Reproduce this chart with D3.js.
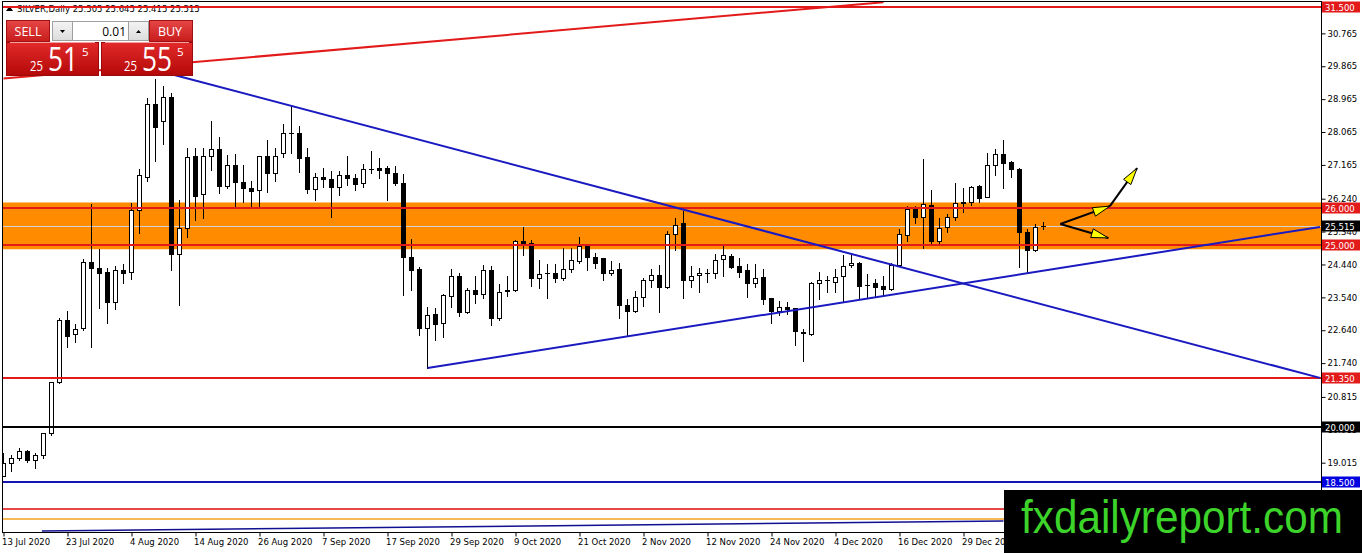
<!DOCTYPE html>
<html>
<head>
<meta charset="utf-8">
<script src="https://cdn.jsdelivr.net/npm/d3@7"></script>
<style>
body { margin: 0; background: #fff; overflow: hidden; }
svg { display: block; }
</style>
</head>
<body>
<svg width="1362" height="553"></svg>
<script>
// daily bars, 13 Jul 2020 onwards (index = trading day)
const opens = [
	18.67, 19.02, 19.16, 19.35, 19.10, 19.24, 19.84, 21.24, 22.93, 22.55,
	22.72, 24.52, 24.36, 24.25, 23.43, 24.30, 24.25, 25.94, 26.85, 28.85,
	28.38, 29.04, 24.74, 25.45, 27.42, 26.38, 27.42, 27.61, 26.60, 27.18,
	26.71, 26.55, 26.49, 27.42, 26.96, 27.50, 28.05, 28.05, 27.39, 26.52,
	26.85, 26.79, 26.57, 26.90, 26.82, 26.68, 27.07, 27.09, 27.09, 26.96,
	26.68, 24.66, 24.33, 22.72, 23.10, 22.85, 23.59, 24.14, 23.15, 23.75,
	23.65, 24.30, 22.99, 23.75, 23.75, 25.10, 25.04, 24.08, 24.22, 24.22,
	24.08, 24.33, 24.55, 24.99, 24.66, 24.63, 24.22, 24.33, 23.34, 23.18,
	23.56, 24.03, 24.17, 23.84, 25.29, 25.59, 24.03, 24.17, 24.21, 24.22,
	24.60, 24.69, 24.41, 24.30, 23.95, 24.11, 23.54, 23.18, 23.29, 23.26,
	22.61, 22.55, 23.95, 24.03, 23.97, 24.14, 24.44, 24.49, 23.90, 23.95,
	23.86, 23.78, 24.44, 25.26, 25.97, 25.75, 26.08, 25.10, 25.48, 25.75,
	26.16, 26.16, 26.60, 26.30, 27.18, 27.48, 27.26, 27.07, 25.34, 24.85,
	25.505
]
const highs = [
	19.32, 19.27, 19.46, 19.40, 19.32, 19.86, 21.26, 23.02, 23.21, 22.85,
	24.63, 26.14, 24.90, 24.38, 24.44, 24.49, 26.16, 27.09, 29.04, 29.56,
	29.37, 29.17, 26.25, 27.67, 27.67, 27.67, 28.41, 27.97, 27.48, 27.50,
	27.20, 26.77, 27.45, 27.89, 27.67, 28.33, 28.82, 28.27, 27.67, 26.98,
	27.12, 27.04, 27.04, 27.45, 26.96, 27.23, 27.59, 27.39, 27.18, 27.18,
	26.96, 25.18, 24.41, 23.32, 23.29, 23.67, 24.36, 24.25, 23.84, 24.17,
	24.47, 24.44, 23.95, 24.17, 25.15, 25.51, 25.15, 24.60, 24.49, 24.49,
	24.93, 24.93, 25.23, 25.04, 24.79, 24.66, 24.58, 24.52, 23.54, 23.75,
	24.11, 24.36, 24.47, 25.40, 25.75, 25.94, 24.44, 24.38, 24.36, 24.77,
	25.04, 24.77, 24.66, 24.49, 24.49, 24.36, 23.56, 23.48, 23.45, 23.29,
	22.72, 24.00, 24.27, 24.17, 24.36, 24.74, 24.79, 24.55, 24.22, 24.08,
	24.17, 24.52, 25.45, 26.08, 26.08, 27.37, 26.52, 25.75, 25.86, 26.71,
	26.57, 26.63, 26.66, 27.53, 27.64, 27.89, 27.31, 27.12, 25.45, 25.59,
	25.645
]
const lows = [
	18.67, 18.80, 19.10, 19.05, 18.88, 19.16, 19.79, 21.21, 22.19, 22.33,
	22.66, 22.19, 23.26, 22.85, 23.24, 23.95, 24.06, 25.32, 26.74, 27.29,
	27.75, 24.30, 23.34, 25.21, 25.67, 25.73, 27.04, 26.41, 26.55, 26.03,
	26.16, 26.03, 26.03, 26.44, 26.74, 27.39, 27.50, 26.98, 26.41, 26.22,
	26.57, 25.75, 26.35, 26.63, 26.49, 26.57, 26.96, 26.82, 26.22, 26.63,
	23.62, 23.75, 22.52, 21.62, 22.39, 22.47, 23.29, 23.04, 23.13, 23.40,
	23.54, 22.80, 22.93, 23.59, 23.73, 24.71, 23.86, 23.81, 23.54, 23.97,
	24.03, 24.25, 24.49, 24.30, 24.36, 24.03, 24.17, 22.99, 22.52, 23.15,
	23.32, 23.84, 23.15, 23.81, 24.85, 23.54, 23.84, 23.70, 23.97, 24.08,
	24.14, 24.36, 24.11, 23.56, 23.84, 23.37, 22.85, 23.07, 23.10, 22.25,
	21.81, 22.52, 23.51, 23.70, 23.70, 23.43, 24.38, 23.51, 23.56, 23.56,
	23.62, 23.75, 24.41, 25.10, 25.59, 24.90, 25.01, 25.01, 25.34, 25.67,
	25.89, 26.08, 26.16, 26.30, 26.90, 26.55, 26.85, 24.38, 24.25, 24.82,
	25.415
]
const closes = [
	19.02, 19.16, 19.35, 19.10, 19.24, 19.84, 21.24, 22.93, 22.50, 22.69,
	24.52, 24.36, 24.22, 23.43, 24.30, 24.22, 25.94, 26.90, 28.85, 28.22,
	29.04, 24.74, 25.45, 27.39, 26.33, 27.42, 27.61, 26.60, 27.18, 26.71,
	26.55, 26.46, 27.42, 26.96, 27.42, 28.05, 28.04, 27.37, 26.52, 26.85,
	26.79, 26.57, 26.90, 26.82, 26.66, 27.07, 27.06, 27.04, 26.96, 26.68,
	24.66, 24.30, 22.72, 23.07, 22.82, 23.62, 24.14, 23.15, 23.75, 23.65,
	24.30, 22.99, 23.70, 23.74, 25.10, 25.04, 24.08, 24.19, 24.21, 24.08,
	24.33, 24.58, 24.96, 24.66, 24.49, 24.22, 24.30, 23.34, 23.18, 23.56,
	24.03, 24.17, 23.84, 25.29, 25.53, 24.03, 24.14, 24.22, 24.22, 24.58,
	24.71, 24.38, 24.25, 23.95, 24.08, 23.51, 23.18, 23.29, 23.24, 22.63,
	22.58, 23.95, 24.03, 24.02, 24.11, 24.41, 24.49, 23.86, 23.89, 23.84,
	23.78, 24.44, 25.29, 25.97, 25.75, 26.11, 25.10, 25.45, 25.75, 26.14,
	26.14, 26.57, 26.27, 27.18, 27.48, 27.23, 27.07, 25.34, 24.85, 25.48,
	25.515
]

const dateIdx = [0, 8, 16, 24, 32, 40, 48, 56, 64, 72, 80, 88, 96, 104, 112, 120]
const dateLabels = ['13 Jul 2020', '23 Jul 2020', '4 Aug 2020', '14 Aug 2020', '26 Aug 2020',
	'7 Sep 2020', '17 Sep 2020', '29 Sep 2020', '9 Oct 2020', '21 Oct 2020', '2 Nov 2020',
	'12 Nov 2020', '24 Nov 2020', '4 Dec 2020', '16 Dec 2020', '29 Dec 2020']

const priceTicks = [30.765, 29.865, 28.965, 28.065, 27.165, 26.240, 25.340, 24.440,
	23.540, 22.640, 21.740, 20.815, 19.915, 19.015]

// horizontal levels with a price tag on the axis
const levels = [31.5, 26, 25, 21.35, 20, 18.5]
const levelKinds = ['red', 'red', 'red', 'red', 'black', 'blue']
// plain horizontal lines near the bottom
const lowLevels = [17.75, 17.5]
const lowKinds = ['redThin', 'orangeThin']

const zone = [24.87, 26.15]
const bid = 25.515
const ask = 25.555

// trendlines: [bar index, price]
const trendRed = [[0, 29.54], [110, 31.63]]
const trendDown = [[21, 29.66], [164.56, 21.35]]
const trendUp = [[53, 21.62], [164.56, 25.48]]
const trendBottom = [[4.8, 17.16], [125, 17.43]]

// drawn arrows: [from bar, from price, to bar, to price]
const arrows = [
	[132.1, 25.56, 138.3, 26.05],
	[138.3, 26.05, 141.7, 27.09],
	[132.1, 25.56, 138.1, 25.18]
]

const kindStyle = {
	red: {c: '#e21a1a', w: 2},
	black: {c: '#000', w: 2},
	blue: {c: '#1414b4', w: 2},
	redThin: {c: '#e00a0a', w: 1.5},
	orangeThin: {c: '#f5a020', w: 1.5}
}

const svg = d3.select('svg')
const plot = {left: 3, right: 1321, top: 2, bottom: 532}
const axisFont = 'DejaVu Sans'

const x = d3.scaleLinear().domain([0, 130]).range([3.5, 1043.5])
const y = d3.scaleLinear().domain([18.5, 31.5]).range([482, 7])
const py = v => Math.round(y(v)) + 0.5

svg.append('rect').attr('width', 1362).attr('height', 553).attr('fill', '#fff')

let defs = svg.append('defs')
defs.append('clipPath').attr('id', 'plotClip').append('rect')
	.attr('x', plot.left).attr('y', plot.top)
	.attr('width', plot.right - plot.left).attr('height', plot.bottom - plot.top)

function grad(id, c1, c2) {
	let lg = defs.append('linearGradient').attr('id', id)
	.attr('x1', 0).attr('y1', 0).attr('x2', 0).attr('y2', 1)
	lg.append('stop').attr('offset', '0%').attr('stop-color', c1)
	lg.append('stop').attr('offset', '100%').attr('stop-color', c2)
}
grad('btnRed', '#e64646', '#c81c1c')
grad('boxRed', '#e22a2a', '#b40808')
grad('btnGray', '#f4f4f4', '#dcdcdc')

let g = svg.append('g').attr('clip-path', 'url(#plotClip)')

// support / resistance zone
g.append('rect')
.attr('x', plot.left).attr('width', plot.right - plot.left)
.attr('y', y(zone[1])).attr('height', y(zone[0]) - y(zone[1]))
.attr('fill', '#ff8c00')

// bid line
g.append('line')
.attr('x1', plot.left).attr('x2', plot.right)
.attr('y1', py(bid)).attr('y2', py(bid))
.attr('stroke', '#d4d4d4').attr('stroke-width', 1)

// header
let last = opens.length - 1
g.append('path')
.attr('d', 'M6,11 L9.5,6 L13,11 Z').attr('fill', '#000')
g.append('text')
.attr('x', 17).attr('y', 12)
.attr('font-family', axisFont).attr('font-size', 8.5).attr('fill', '#000')
.text(`SILVER,Daily  ${[opens[last], highs[last], lows[last], closes[last]].map(d3.format('.3f')).join(' ')}`)

// candles
let bars = opens.map((o, i) => ({i, o, h: highs[i], l: lows[i], c: closes[i]}))
let cg = g.append('g').attr('shape-rendering', 'crispEdges')

cg.selectAll('line.wick')
.data(bars).enter()
.append('line').attr('class', 'wick')
.attr('x1', d => x(d.i)).attr('x2', d => x(d.i))
.attr('y1', d => py(d.h)).attr('y2', d => py(d.l))
.attr('stroke', '#000')

cg.selectAll('rect.body')
.data(bars.filter(d => py(d.o) !== py(d.c))).enter()
.append('rect').attr('class', 'body')
.attr('x', d => x(d.i) - 2).attr('width', 4)
.attr('y', d => Math.min(py(d.o), py(d.c)))
.attr('height', d => Math.abs(py(d.o) - py(d.c)))
.attr('fill', d => d.c >= d.o ? '#fff' : '#000')
.attr('stroke', '#000')

cg.selectAll('line.doji')
.data(bars.filter(d => py(d.o) === py(d.c))).enter()
.append('line').attr('class', 'doji')
.attr('x1', d => x(d.i) - 2.5).attr('x2', d => x(d.i) + 2.5)
.attr('y1', d => py(d.c)).attr('y2', d => py(d.c))
.attr('stroke', '#000')

// horizontal levels
let hl = levels.map((v, i) => ({v, k: levelKinds[i]}))
.concat(lowLevels.map((v, i) => ({v, k: lowKinds[i]})))
g.selectAll('line.level')
.data(hl).enter()
.append('line').attr('class', 'level')
.attr('x1', plot.left).attr('x2', plot.right)
.attr('y1', d => Math.round(y(d.v)))
.attr('y2', d => Math.round(y(d.v)))
.attr('stroke', d => kindStyle[d.k].c)
.attr('stroke-width', d => kindStyle[d.k].w)

// trendlines
let tl = [
	{p: trendRed, c: '#e21a1a', w: 2},
	{p: trendDown, c: '#1a1ac0', w: 2},
	{p: trendUp, c: '#1a1ac0', w: 2},
	{p: trendBottom, c: '#101090', w: 1.5}
]
g.selectAll('line.trend')
.data(tl).enter()
.append('line').attr('class', 'trend')
.attr('x1', d => x(d.p[0][0])).attr('y1', d => y(d.p[0][1]))
.attr('x2', d => x(d.p[1][0])).attr('y2', d => y(d.p[1][1]))
.attr('stroke', d => d.c).attr('stroke-width', d => d.w)

// arrows
function head(x1, y1, x2, y2, len, half) {
	let dx = x2 - x1, dy = y2 - y1, L = Math.hypot(dx, dy)
	let ux = dx / L, uy = dy / L
	let bx = x2 - ux * len, by = y2 - uy * len
	return `M${x2},${y2} L${bx - uy * half},${by + ux * half} L${bx + uy * half},${by - ux * half} Z`
}
let ag = g.append('g')
arrows.forEach(a => {
	let x1 = x(a[0]), y1 = y(a[1]), x2 = x(a[2]), y2 = y(a[3])
	ag.append('line')
	.attr('x1', x1).attr('y1', y1).attr('x2', x2).attr('y2', y2)
	.attr('stroke', '#000').attr('stroke-width', 2)
	ag.append('path')
	.attr('d', head(x1, y1, x2, y2, 17, 4.5))
	.attr('fill', '#ffff00').attr('stroke', '#000').attr('stroke-width', 1)
})

// frame
svg.append('rect')
.attr('x', plot.left - 0.5).attr('y', plot.top - 0.5)
.attr('width', plot.right - plot.left + 1).attr('height', plot.bottom - plot.top + 1)
.attr('fill', 'none').attr('stroke', '#000')
.attr('shape-rendering', 'crispEdges')

// price axis
let yAxis = d3.axisRight(y).tickValues(priceTicks).tickFormat(d3.format('.3f'))
.tickSize(4).tickPadding(2).offset(0)
svg.append('g')
.attr('transform', `translate(${plot.right + 0.5},0)`)
.call(yAxis)
.call(a => a.select('.domain').remove())
.call(a => a.selectAll('line').attr('stroke', '#000'))
.call(a => a.selectAll('text').attr('fill', '#000'))
.attr('font-family', axisFont).attr('font-size', 8.5)

// price tags
let tags = levels.map((v, i) => ({v, c: kindStyle[levelKinds[i]].c}))
tags.push({v: bid, c: '#000'})
let tg = svg.append('g')
tg.selectAll('rect')
.data(tags).enter()
.append('rect')
.attr('x', plot.right + 1).attr('width', 38)
.attr('y', d => Math.round(y(d.v)) - 5.5).attr('height', 11)
.attr('fill', d => d.c === '#1414b4' ? '#0000e0' : d.c)
tg.selectAll('text')
.data(tags).enter()
.append('text')
.attr('x', plot.right + 4).attr('y', d => Math.round(y(d.v)) + 3.5)
.attr('font-family', axisFont).attr('font-size', 8.5).attr('fill', '#fff')
.text(d => d3.format('.3f')(d.v))

// time axis
let xAxis = d3.axisBottom(x).tickValues(dateIdx).tickFormat((d, i) => dateLabels[i])
.tickSize(4).tickPadding(2).offset(0)
svg.append('g')
.attr('transform', `translate(0,${plot.bottom + 0.5})`)
.call(xAxis)
.call(a => a.select('.domain').remove())
.call(a => a.selectAll('line').attr('stroke', '#000').attr('transform', 'translate(0.5,0)'))
.call(a => a.selectAll('text').attr('text-anchor', 'start').attr('dx', -1.5).attr('fill', '#000'))
.attr('font-family', axisFont).attr('font-size', 8.5)

// one-click trading panel
let p = svg.append('g')
let whole = d3.format('.3f')
let bidS = whole(bid), askS = whole(ask)

p.append('rect').attr('x', 6.5).attr('y', 20.5).attr('width', 43).attr('height', 21)
.attr('fill', 'url(#btnRed)').attr('stroke', '#a01010')
p.append('rect').attr('x', 149.5).attr('y', 20.5).attr('width', 43).attr('height', 21)
.attr('fill', 'url(#btnRed)').attr('stroke', '#a01010')
p.append('rect').attr('x', 52.5).attr('y', 21.5).attr('width', 20).attr('height', 19)
.attr('fill', 'url(#btnGray)').attr('stroke', '#a0a0a0')
p.append('rect').attr('x', 72.5).attr('y', 21.5).attr('width', 56).attr('height', 19)
.attr('fill', '#fff').attr('stroke', '#a0a0a0')
p.append('rect').attr('x', 128.5).attr('y', 21.5).attr('width', 20).attr('height', 19)
.attr('fill', 'url(#btnGray)').attr('stroke', '#a0a0a0')
p.append('path').attr('d', 'M60,30 L65,30 L62.5,33 Z').attr('fill', '#000')
p.append('path').attr('d', 'M136,33 L141,33 L138.5,30 Z').attr('fill', '#000')
p.append('text').attr('x', 126).attr('y', 35.5).attr('text-anchor', 'end')
.attr('font-family', 'Open Sans').attr('font-size', 12).attr('fill', '#000')
.text('0.01')

p.append('text').attr('x', 28).attr('y', 36).attr('text-anchor', 'middle')
.attr('font-family', 'Open Sans').attr('font-size', 12.5).attr('fill', '#fff').text('SELL')
p.append('text').attr('x', 170).attr('y', 36).attr('text-anchor', 'middle')
.attr('font-family', 'Open Sans').attr('font-size', 12.5).attr('fill', '#fff').text('BUY')

let boxes = [
	{x0: 6, w: 93, s: bidS, big: 48, small: 30, sup: 82},
	{x0: 101, w: 92, s: askS, big: 142, small: 124, sup: 177}
]
boxes.forEach(b => {
	p.append('rect').attr('x', b.x0 + 0.5).attr('y', 42.5).attr('width', b.w - 1).attr('height', 33)
	.attr('fill', 'url(#boxRed)').attr('stroke', '#9a0a0a')
	p.append('line').attr('x1', b.x0 + 4).attr('x2', b.x0 + b.w - 4).attr('y1', 42.5).attr('y2', 42.5)
	.attr('stroke', '#f2a0a0')
	p.append('text').attr('x', b.small).attr('y', 70.5)
	.attr('font-family', 'Open Sans').attr('font-size', 14).attr('fill', '#fff')
	.attr('textLength', 13).attr('lengthAdjust', 'spacingAndGlyphs')
	.text(b.s.slice(0, 2))
	p.append('text').attr('x', b.big).attr('y', 70.5)
	.attr('font-family', 'Open Sans').attr('font-size', 32).attr('fill', '#fff')
	.attr('textLength', 30).attr('lengthAdjust', 'spacingAndGlyphs')
	.text(b.s.slice(3, 5))
	p.append('text').attr('x', b.sup).attr('y', 55.5)
	.attr('font-family', 'Open Sans').attr('font-size', 11.5).attr('fill', '#fff')
	.text(b.s.slice(5, 6))
})

// watermark
svg.append('rect').attr('x', 1004).attr('y', 490).attr('width', 358).attr('height', 63).attr('fill', '#000')
svg.append('text').attr('x', 1021).attr('y', 533)
.attr('font-family', 'Liberation Sans').attr('font-size', 46).attr('fill', '#3cd42a')
.attr('textLength', 322).attr('lengthAdjust', 'spacingAndGlyphs')
.text('fxdailyreport.com')
</script>
</body>
</html>
